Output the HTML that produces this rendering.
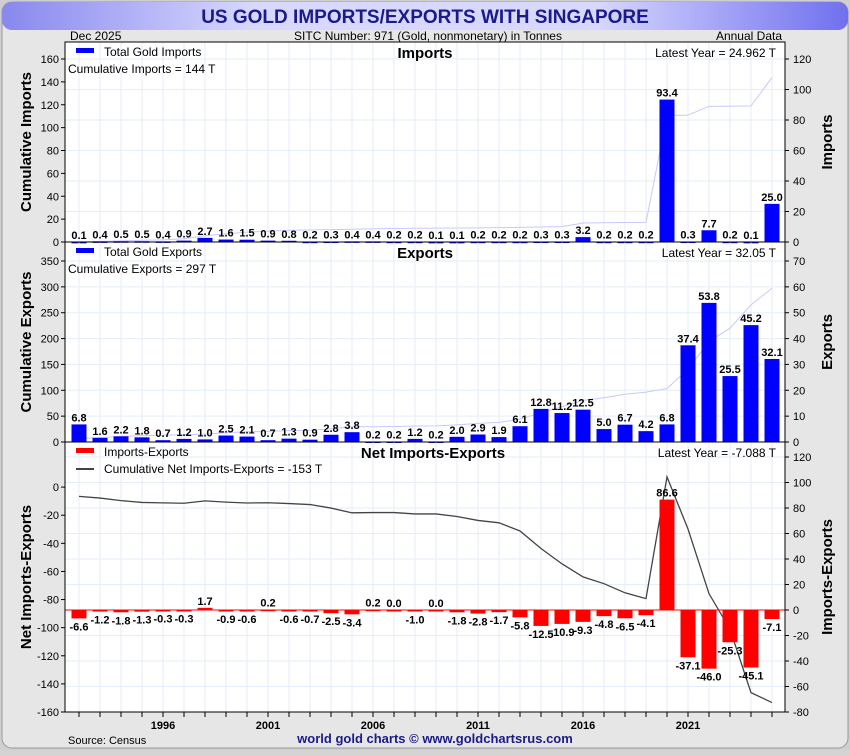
<!DOCTYPE html>
<html><head><meta charset="utf-8"><style>
body{margin:0;width:850px;height:750px;overflow:hidden;font-family:"Liberation Sans",sans-serif;background:#d4d4d4}
#wrap{position:absolute;left:0;top:0;width:850px;height:750px}
</style></head><body>
<div id="wrap">
<svg id="c" width="850" height="750" xmlns="http://www.w3.org/2000/svg" font-family="Liberation Sans, sans-serif">
<defs><linearGradient id="tg" x1="0" x2="1"><stop offset="0" stop-color="#8888ee"/><stop offset="0.3" stop-color="#d8d8ff"/><stop offset="0.7" stop-color="#d8d8ff"/><stop offset="1" stop-color="#7070ee"/></linearGradient></defs>
<rect x="0" y="0" width="850" height="750" fill="#cfcfcf"/>
<rect x="2" y="2" width="846" height="746" rx="10" fill="#e6e6e6" stroke="#999"/>
<rect x="2" y="2" width="846" height="28" rx="10" fill="url(#tg)"/>
<text x="425" y="23" text-anchor="middle" font-size="19" font-weight="bold" fill="#1a1a8a">US GOLD IMPORTS/EXPORTS WITH SINGAPORE</text>
<text x="70" y="40" font-size="12" fill="#000">Dec  2025</text>
<text x="428" y="40" text-anchor="middle" font-size="12">SITC Number: 971 (Gold, nonmonetary) in Tonnes</text>
<text x="782" y="40" text-anchor="end" font-size="12">Annual Data</text>
<rect x="65" y="42" width="720" height="670" fill="#fff"/>
<g id="g"></g>
<text x="68" y="744" font-size="11">Source: Census</text>
<text x="435" y="743" text-anchor="middle" font-size="13" font-weight="bold" fill="#1a1a8a">world gold charts © www.goldchartsrus.com</text>
</svg></div>
<script>
const years=[1992,1993,1994,1995,1996,1997,1998,1999,2000,2001,2002,2003,2004,2005,2006,2007,2008,2009,2010,2011,2012,2013,2014,2015,2016,2017,2018,2019,2020,2021,2022,2023,2024,2025];
const imports=[0.1,0.4,0.5,0.5,0.4,0.9,2.7,1.6,1.5,0.9,0.8,0.2,0.3,0.4,0.4,0.2,0.2,0.1,0.1,0.2,0.2,0.2,0.3,0.3,3.2,0.2,0.2,0.2,93.4,0.3,7.7,0.2,0.1,25.0];
const exportsV=[6.8,1.6,2.2,1.8,0.7,1.2,1.0,2.5,2.1,0.7,1.3,0.9,2.8,3.8,0.2,0.2,1.2,0.2,2.0,2.9,1.9,6.1,12.8,11.2,12.5,5.0,6.7,4.2,6.8,37.4,53.8,25.5,45.2,32.1];
const net=[-6.6,-1.2,-1.8,-1.3,-0.3,-0.3,1.7,-0.9,-0.6,0.2,-0.6,-0.7,-2.5,-3.4,0.2,0.0,-1.0,0.0,-1.8,-2.8,-1.7,-5.8,-12.5,-10.9,-9.3,-4.8,-6.5,-4.1,86.6,-37.1,-46.0,-25.3,-45.1,-7.1];
const xTickLabels=[1996,2001,2006,2011,2016,2021];
const NS="http://www.w3.org/2000/svg";
const g=document.getElementById('g');
function el(t,a,txt){const e=document.createElementNS(NS,t);for(const k in a)e.setAttribute(k,a[k]);if(txt!==undefined)e.textContent=txt;g.appendChild(e);return e;}
const L=65,R=785;
const x=i=>79+i*(772-79)/(years.length-1);
const cum=a=>{let s=0;return a.map(v=>s+=v);};
const panels=[
 {name:'imports',top:42,bot:242,lmin:0,lmax:160,lstep:20,lTop:59,lLabMax:160,rmin:0,rmax:120,rstep:20,rTop:59,data:imports,cumD:cum(imports),color:'#0000ff',lineCol:'#c8c8ff',
  title:'Imports',leg1:'Total Gold Imports',leg2:'Cumulative Imports = 144 T',latest:'Latest Year = 24.962 T',lt:'Cumulative Imports',rt:'Imports'},
 {name:'exports',top:242,bot:442,lmin:0,lmax:350,lstep:50,lTop:261,lLabMax:350,rmin:0,rmax:70,rstep:10,rTop:261,data:exportsV,cumD:cum(exportsV),color:'#0000ff',lineCol:'#c8c8ff',
  title:'Exports',leg1:'Total Gold Exports',leg2:'Cumulative Exports = 297 T',latest:'Latest Year = 32.05 T',lt:'Cumulative Exports',rt:'Exports'},
 {name:'net',top:442,bot:712,lmin:-160,lmax:20,lstep:20,lTop:459,lLabMax:0,rmin:-80,rmax:120,rstep:20,rTop:457,data:net,cumD:cum(net),color:'#ff0000',lineCol:'#444',
  title:'Net Imports-Exports',leg1:'Imports-Exports',leg2:'Cumulative Net Imports-Exports = -153 T',latest:'Latest Year = -7.088 T',lt:'Net Imports-Exports',rt:'Imports-Exports',net:true}
];
panels.forEach(p=>{
 const ly=v=>p.bot-(v-p.lmin)/(p.lmax-p.lmin)*(p.bot-p.lTop);
 const ry=v=>p.bot-(v-p.rmin)/(p.rmax-p.rmin)*(p.bot-p.rTop);
 for(let i=0;i<years.length;i++){const e=el('line',{x1:x(i),x2:x(i),y1:p.top,y2:p.bot,stroke:'#e4eef8'});}
 for(let v=p.rmin;v<=p.rmax;v+=p.rstep){const e=el('line',{x1:L,x2:R,y1:ry(v),y2:ry(v),stroke:'#e4eef8'});}
 for(let v=p.lmin;v<=p.lLabMax;v+=p.lstep){
  const e=el('line',{x1:L-4,x2:L,y1:ly(v),y2:ly(v),stroke:'#000'});
  const t=el('text',{x:L-6,y:ly(v)+4,'text-anchor':'end','font-size':11},v);}
 for(let v=p.rmin;v<=p.rmax;v+=p.rstep){
  const e=el('line',{x1:R,x2:R+4,y1:ry(v),y2:ry(v),stroke:'#000'});
  const t=el('text',{x:R+8,y:ry(v)+4,'font-size':11},v);}
 const pts=p.cumD.map((v,i)=>x(i)+','+ly(v)).join(' ');
 const pl=el('polyline',{points:pts,fill:'none',stroke:p.lineCol,'stroke-width':p.net?1.3:1});
 
 if(p.net){const z=el('line',{x1:L,x2:R,y1:ry(0),y2:ry(0),stroke:'#f00'});}
 p.data.forEach((v,i)=>{
  const y0=ry(0),y1=ry(v);
  const b=el('rect',{x:x(i)-7.5,y:Math.min(y0,y1),width:15,height:Math.max(Math.abs(y1-y0),1.5),fill:p.color});
  
  const ty=v>=0?Math.min(y0,y1)-3:Math.max(y0,y1)+12;
  const t=el('text',{x:x(i),y:ty,'text-anchor':'middle','font-size':11,'font-weight':'bold'},v.toFixed(1));
  
 });
 const f=el('rect',{x:L,y:p.top,width:R-L,height:p.bot-p.top,fill:'none',stroke:'#000'});
 const lg=el('rect',{x:76,y:p.top+6,width:18,height:5,fill:p.net?'#f00':'#00f'});
 const l1=el('text',{x:104,y:p.top+14,'font-size':12},p.leg1);
 if(p.net){const s2=el('line',{x1:76,x2:94,y1:p.top+27,y2:p.top+27,stroke:'#444','stroke-width':2});
  const l2=el('text',{x:104,y:p.top+31,'font-size':12},p.leg2);}
 else{const l2=el('text',{x:68,y:p.top+31,'font-size':12},p.leg2);}
 const tt=el('text',{x:p.net?433:425,y:p.top+16,'text-anchor':'middle','font-size':15,'font-weight':'bold'},p.title);
 const lt=el('text',{x:776,y:p.top+15,'text-anchor':'end','font-size':12},p.latest);
 const cy=(p.top+p.bot)/2;
 const a1=el('text',{x:0,y:0,transform:`translate(31,${cy}) rotate(-90)`,'text-anchor':'middle','font-size':15,'font-weight':'bold'},p.lt);
 const a2=el('text',{x:0,y:0,transform:`translate(832,${cy}) rotate(-90)`,'text-anchor':'middle','font-size':15,'font-weight':'bold'},p.rt);
});
years.forEach((yr,i)=>{const e=el('line',{x1:x(i),x2:x(i),y1:712,y2:717,stroke:'#000'});});
xTickLabels.forEach(yr=>{const i=years.indexOf(yr);const t=el('text',{x:x(i),y:729,'text-anchor':'middle','font-size':11,'font-weight':'bold'},yr);});
</script>
</body></html>
